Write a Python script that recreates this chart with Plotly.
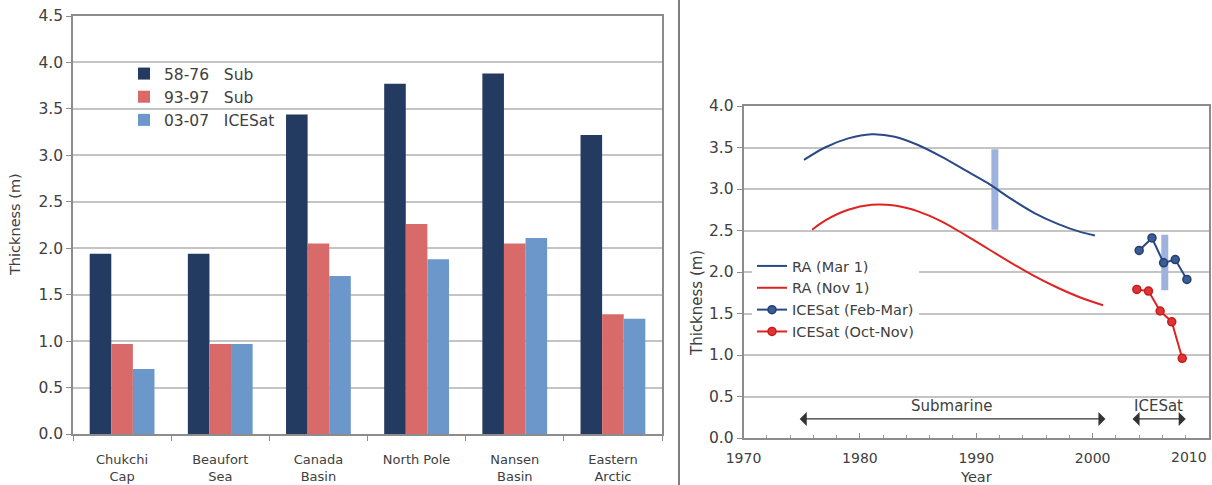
import plotly.graph_objects as go

# ---------------- data: left panel (bar chart) ----------------
regions = ["Chukchi<br>Cap", "Beaufort<br>Sea", "Canada<br>Basin", "North Pole",
           "Nansen<br>Basin", "Eastern<br>Arctic"]
sub_58_76 = [1.94, 1.94, 3.44, 3.77, 3.88, 3.22]
sub_93_97 = [0.97, 0.97, 2.05, 2.26, 2.05, 1.29]
icesat_03_07 = [0.70, 0.97, 1.70, 1.88, 2.11, 1.24]
left_names = ["58-76\u00a0\u00a0\u00a0Sub", "93-97\u00a0\u00a0\u00a0Sub", "03-07\u00a0\u00a0\u00a0ICESat"]

# ---------------- data: right panel (time series) ----------------
ra_mar_years = [1975.2, 1977, 1979, 1981, 1983, 1985, 1987, 1989, 1991, 1993, 1995, 1997, 1999, 2000.2]
ra_mar_thick = [3.35, 3.50, 3.61, 3.66, 3.63, 3.53, 3.39, 3.23, 3.07, 2.88, 2.71, 2.58, 2.48, 2.44]
ra_nov_years = [1975.9, 1977, 1979, 1981, 1983, 1985, 1987, 1989, 1991, 1993, 1995, 1997, 1999, 2000.9]
ra_nov_thick = [2.51, 2.62, 2.75, 2.81, 2.80, 2.73, 2.61, 2.45, 2.28, 2.11, 1.95, 1.81, 1.69, 1.60]
feb_years = [2004.0, 2005.1, 2006.1, 2007.1, 2008.1]
feb_thick = [2.26, 2.41, 2.11, 2.15, 1.91]
oct_years = [2003.8, 2004.8, 2005.8, 2006.8, 2007.7]
oct_thick = [1.79, 1.77, 1.53, 1.40, 0.96]
unc_years = [1991.6, 2006.2]
unc_low = [2.51, 1.78]
unc_high = [3.48, 2.45]
periods = ["Submarine", "ICESat"]
period_start = [1974.7, 2003.3]
period_end = [2001.1, 2008.0]
period_arrow_y = 0.23
period_label_y = 0.38
year_ticks = [1970, 1980, 1990, 2000, 2010]
year_ticktext = ["1970", "1980", "1990", "2000", "2010"]

FONT = "DejaVu Sans"
TXT = "#404040"
W, H = 1212, 485

fig = go.Figure()

bar_colors = ["#243b61", "#d96a6a", "#6b97cb"]
for name, vals, col in zip(left_names, [sub_58_76, sub_93_97, icesat_03_07], bar_colors):
    fig.add_trace(go.Bar(x=regions, y=vals, name=name, marker=dict(color=col, line=dict(width=0)),
                         xaxis="x", yaxis="y", legend="legend"))

# uncertainty bars (right)
fig.add_trace(go.Bar(x=unc_years, y=[h - l for h, l in zip(unc_high, unc_low)], base=unc_low,
                     width=0.6, marker=dict(color="#9db2dc", line=dict(width=0)),
                     xaxis="x2", yaxis="y2", showlegend=False, offsetgroup="unc"))

fig.add_trace(go.Scatter(x=ra_mar_years, y=ra_mar_thick, mode="lines", name="RA (Mar 1)",
                         line=dict(color="#2a4a86", width=2, shape="spline", smoothing=1.0),
                         xaxis="x2", yaxis="y2", legend="legend2"))
fig.add_trace(go.Scatter(x=ra_nov_years, y=ra_nov_thick, mode="lines", name="RA (Nov 1)",
                         line=dict(color="#e02222", width=2, shape="spline", smoothing=1.0),
                         xaxis="x2", yaxis="y2", legend="legend2"))
fig.add_trace(go.Scatter(x=feb_years, y=feb_thick, mode="lines+markers", name="ICESat (Feb-Mar)",
                         line=dict(color="#2a4a86", width=2),
                         marker=dict(symbol="circle", size=8, color="#3b5c98",
                                     line=dict(color="#24406e", width=1.5)),
                         xaxis="x2", yaxis="y2", legend="legend2"))
fig.add_trace(go.Scatter(x=oct_years, y=oct_thick, mode="lines+markers", name="ICESat (Oct-Nov)",
                         line=dict(color="#e02222", width=2),
                         marker=dict(symbol="circle", size=8, color="#e03333",
                                     line=dict(color="#c41d1d", width=1.5)),
                         xaxis="x2", yaxis="y2", legend="legend2"))

annotations = []
for lab, s, e in zip(periods, period_start, period_end):
    annotations.append(dict(x=e, y=period_arrow_y, ax=s, ay=period_arrow_y, xref="x2", yref="y2",
                            axref="x2", ayref="y2", text="", showarrow=True, arrowhead=1,
                            arrowside="end+start", arrowsize=1.8, arrowwidth=1.3, arrowcolor="#333333"))
    annotations.append(dict(x=(s + e) / 2, y=period_label_y, xref="x2", yref="y2", text=lab,
                            xanchor="center", yanchor="middle",
                            showarrow=False, font=dict(family=FONT, size=15, color=TXT)))

# the last year label sits right-aligned at the frame edge (as in the original)
annotations.append(dict(x=year_ticks[-1], y=(H - 457) / H, xref="x2", yref="paper",
                        text=year_ticktext[-1], xanchor="right", yanchor="middle", showarrow=False,
                        font=dict(family=FONT, size=14, color=TXT)))

# axis titles
annotations.append(dict(x=15 / W, y=(H - 225) / H, xref="paper", yref="paper", text="Thickness (m)",
                        xanchor="center", yanchor="middle",
                        textangle=-90, showarrow=False, font=dict(family=FONT, size=14.5, color=TXT)))
annotations.append(dict(x=697 / W, y=(H - 303) / H, xref="paper", yref="paper", text="Thickness (m)",
                        xanchor="center", yanchor="middle",
                        textangle=-90, showarrow=False, font=dict(family=FONT, size=15, color=TXT)))
annotations.append(dict(x=976 / W, y=(H - 477) / H, xref="paper", yref="paper", text="Year",
                        xanchor="center", yanchor="middle",
                        showarrow=False, font=dict(family=FONT, size=14.5, color=TXT)))

fig.update_layout(
    width=W, height=H,
    margin=dict(l=0, r=0, t=0, b=0),
    paper_bgcolor="white", plot_bgcolor="white",
    font=dict(family=FONT, size=14, color=TXT),
    barmode="group", bargap=0.34, bargroupgap=0,
    xaxis=dict(domain=[73 / W, 662 / W], anchor="y", type="category", automargin=False,
               showline=True, linecolor="#8c8c8c", linewidth=1.5, mirror=True,
               ticks="outside", tickson="boundaries", ticklen=5, tickcolor="#8c8c8c",
               ticklabelstandoff=13,
               tickfont=dict(family=FONT, size=13, color=TXT), showgrid=False),
    yaxis=dict(domain=[(H - 434) / H, (H - 16) / H], anchor="x", range=[0, 4.5], dtick=0.5,
               automargin=False,
               tickformat=".1f", showline=True, linecolor="#8c8c8c", linewidth=1.5, mirror=True,
               ticks="outside", ticklen=5, tickcolor="#8c8c8c",
               showgrid=True, gridcolor="#c4c4c4", gridwidth=1.5, zeroline=False,
               tickfont=dict(family=FONT, size=15.5, color=TXT)),
    xaxis2=dict(domain=[743.5 / W, 1209 / W], anchor="y2", range=[1970, 2010], automargin=False,
                tickmode="array", tickvals=year_ticks[:-1], ticktext=year_ticktext[:-1],
                showline=True, linecolor="#8c8c8c", linewidth=1.5, mirror=True,
                ticks="inside", ticklen=5, tickcolor="#8c8c8c", ticklabelstandoff=6,
                minor=dict(dtick=2, ticks="inside", ticklen=3, tickcolor="#9c9c9c"),
                showgrid=False, zeroline=False,
                tickfont=dict(family=FONT, size=14, color=TXT)),
    yaxis2=dict(domain=[(H - 438) / H, (H - 106) / H], anchor="x2", range=[0, 4], dtick=0.5,
                automargin=False,
                tickformat=".1f", showline=True, linecolor="#8c8c8c", linewidth=1.5, mirror=True,
                ticks="outside", ticklen=5, tickcolor="#8c8c8c",
                showgrid=True, gridcolor="#c4c4c4", gridwidth=1.5, zeroline=False,
                tickfont=dict(family=FONT, size=15.5, color=TXT)),
    legend=dict(x=124 / W, y=(H - 57) / H, xanchor="left", yanchor="top",
                bgcolor="rgba(255,255,255,0)",
                font=dict(family=FONT, size=15.5, color=TXT), itemwidth=30,
                tracegroupgap=0),
    legend2=dict(x=752 / W, y=(H - 250) / H, xanchor="left", yanchor="top", bgcolor="white",
                 font=dict(family=FONT, size=14.5, color=TXT), itemwidth=30,
                 tracegroupgap=0),
    annotations=annotations,
    shapes=[
        # divider between the two panels
        dict(type="line", xref="paper", yref="paper", x0=679 / W, x1=679 / W, y0=0, y1=1,
             line=dict(color="#555555", width=1.5)),
        # white backing behind the left legend (hides the gridline under it)
        dict(type="rect", xref="paper", yref="paper", x0=115 / W, x1=278 / W,
             y0=(H - 131) / H, y1=(H - 67) / H, fillcolor="white", line=dict(width=0),
             layer="between"),
    ],
)

fig.write_html("out.html", config={"displayModeBar": False},
               post_script="document.body.style.margin='0';document.body.style.overflow='hidden';")
